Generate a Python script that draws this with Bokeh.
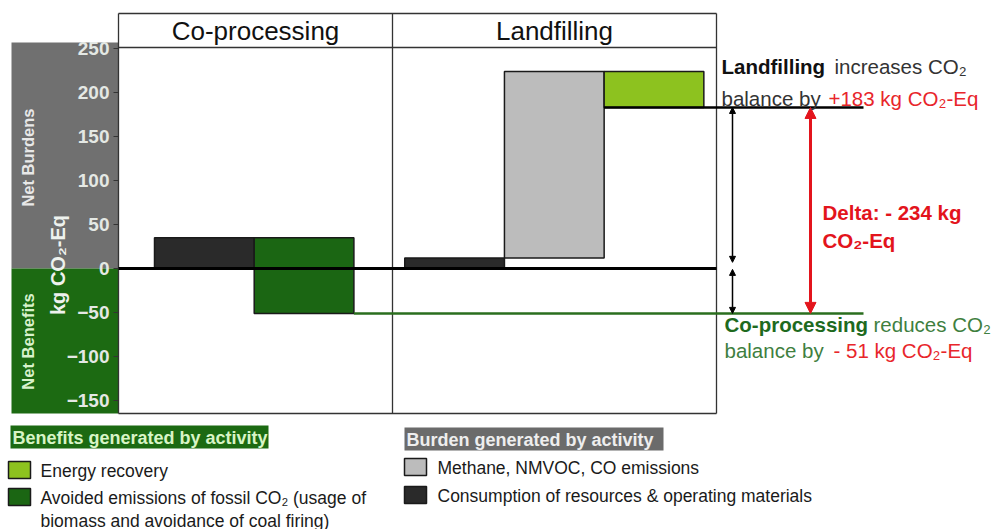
import math
from bokeh.plotting import figure
from bokeh.models import (Range1d, FixedTicker, Label, Arrow, NormalHead, ColumnDataSource)
from bokeh.embed import file_html
from bokeh.resources import INLINE
from bokeh.core.properties import value

# ---------------- data ----------------
scenarios = ["Co-processing", "Landfilling"]
co_processing_steps = ["Consumption of resources & operating materials",
                       "Avoided emissions of fossil CO₂"]
co_processing_values = [35, -86]
landfilling_steps = ["Consumption of resources & operating materials",
                     "Methane, NMVOC, CO emissions",
                     "Energy recovery"]
landfilling_values = [12, 212, -41]
y_ticks = [-150, -100, -50, 0, 50, 100, 150, 200, 250]
benefit_labels = ["Energy recovery",
                  "Avoided emissions of fossil CO₂ (usage of\nbiomass and avoidance of coal firing)"]
burden_labels = ["Methane, NMVOC, CO emissions",
                 "Consumption of resources & operating materials"]

# ---------------- styles ----------------
FONT = "Liberation Sans"
C_LIGHT_GREEN = "#8dc21f"
C_DARK_GREEN = "#1b6613"
C_GRAY = "#bcbcbc"
C_DARK = "#2a2a2a"
C_RED = "#e3141c"
step_color = {
    "Consumption of resources & operating materials": C_DARK,
    "Avoided emissions of fossil CO₂": C_DARK_GREEN,
    "Methane, NMVOC, CO emissions": C_GRAY,
    "Energy recovery": C_LIGHT_GREEN,
}
benefit_colors = [C_LIGHT_GREEN, C_DARK_GREEN]
burden_colors = [C_GRAY, C_DARK]

# layout helpers (canvas pixel -> data units)
def px(xp):
    return (xp - 154) / 99.7

def py(yp):
    return (268 - yp) / 0.88

W, H = 1003, 529

p = figure(width=W, height=H, output_backend="svg", toolbar_location=None,
           x_range=Range1d(px(0), px(W)), y_range=Range1d(py(H), py(0)),
           x_axis_location=None, min_border=0)
p.outline_line_color = None
p.grid.visible = False
p.background_fill_color = "white"
p.border_fill_color = "white"

# band behind the axis
p.quad(left=[px(11), px(11)], right=[px(118), px(118)], top=[py(42), 0],
       bottom=[0, py(413)], fill_color=["#707070", "#1c6a12"], line_color=None)
p.text(x=[px(27), px(27)], y=[py(157), py(341)], text=["Net Burdens", "Net Benefits"],
       angle=math.pi / 2, text_align="center", text_baseline="middle",
       text_font=value(FONT), text_font_style="bold", text_font_size="16.5px",
       text_color=["#e8e8e8", "#d8f2cc"])

# y axis drawn at the frame's left edge
ax = p.yaxis[0]
ax.fixed_location = px(118)
ax.ticker = FixedTicker(ticks=y_ticks)
ax.axis_line_color = None
ax.major_tick_line_color = "#333333"
ax.major_tick_in = 0
ax.major_tick_out = 5
ax.minor_tick_line_color = None
ax.major_label_text_font = FONT
ax.major_label_text_font_style = "bold"
ax.major_label_text_font_size = "19px"
ax.major_label_text_color = "#e4e8e4"
ax.major_label_standoff = 4
ax.axis_label = "kg CO₂-Eq"
ax.axis_label_text_font = FONT
ax.axis_label_text_font_style = "bold"
ax.axis_label_text_font_size = "20px"
ax.axis_label_text_color = "#eef2ee"
ax.axis_label_standoff = -5

# frame and headers
frame_l, frame_r, divider = px(118), px(716), px(392)
frame_t, frame_b, head_b = py(13), py(413), py(47)
p.segment(x0=[frame_l, frame_r, divider, frame_l, frame_l, frame_l],
          y0=[frame_b, frame_b, frame_b, frame_t, head_b, frame_b],
          x1=[frame_l, frame_r, divider, frame_r, frame_r, frame_r],
          y1=[frame_t, frame_t, frame_t, frame_t, head_b, frame_b],
          line_color="#333333", line_width=1.3)
header_x = [(frame_l + divider) / 2, (divider + frame_r) / 2]
p.text(x=header_x, y=[py(30)] * 2, text=scenarios, text_align="center",
       text_baseline="middle", text_font=value(FONT), text_font_size="26px",
       text_color="#111111")

# waterfall bars
group_offset = [0.0, 2.51]
rows = dict(left=[], right=[], bottom=[], top=[], color=[], name=[])
nets = []
for g, (steps, vals) in enumerate([(co_processing_steps, co_processing_values),
                                   (landfilling_steps, landfilling_values)]):
    cum = 0
    for i, (s, v) in enumerate(zip(steps, vals)):
        lo, hi = sorted([cum, cum + v])
        rows["left"].append(group_offset[g] + i)
        rows["right"].append(group_offset[g] + i + 1)
        rows["bottom"].append(lo)
        rows["top"].append(hi)
        rows["color"].append(step_color[s])
        rows["name"].append(s)
        cum += v
    nets.append(cum)
src = ColumnDataSource(rows)
p.quad(left="left", right="right", bottom="bottom", top="top", fill_color="color",
       line_color="#1a1a1a", line_width=1.5, source=src)

net_co, net_land = nets
# zero line
p.segment(x0=[frame_l], y0=[0], x1=[frame_r], y1=[0], line_color="black", line_width=3)
# net lines
p.segment(x0=[rows["left"][-1]], y0=[net_land], x1=[px(863)], y1=[net_land],
          line_color="black", line_width=2.5)
p.segment(x0=[rows["right"][1]], y0=[net_co], x1=[px(863)], y1=[net_co],
          line_color="#2a6e1e", line_width=2.5)

# arrows
def head(size, color):
    return NormalHead(size=size, fill_color=color, line_color=color)

p.add_layout(Arrow(start=head(6, "black"), end=head(6, "black"), x_start=px(732), y_start=net_land,
                   x_end=px(732), y_end=7, line_color="black", line_width=1.5))
p.add_layout(Arrow(start=head(6, "black"), end=head(6, "black"), x_start=px(732), y_start=-1,
                   x_end=px(732), y_end=net_co, line_color="black", line_width=1.5))
p.add_layout(Arrow(start=head(11, C_RED), end=head(11, C_RED), x_start=px(810), y_start=net_land,
                   x_end=px(810), y_end=net_co, line_color=C_RED, line_width=3))

def lab(xp, yp, text, color, bold=False, size="20.5px"):
    p.add_layout(Label(x=px(xp), y=py(yp), text=text, text_align="left",
                       text_baseline="middle", text_font=FONT, text_font_size=size,
                       text_font_style="bold" if bold else "normal", text_color=color))

delta = net_co - net_land
lab(721, 66, "Landfilling", "#111111", bold=True)
lab(834, 66, "increases CO₂", "#333333")
lab(721, 98, "balance by", "#333333")
lab(828, 98, f"+{net_land} kg CO₂-Eq", "#e8262b")
lab(822, 212, f"Delta: - {abs(delta)} kg", C_RED, bold=True)
lab(822, 240, "CO₂-Eq", C_RED, bold=True)
lab(724, 324, "Co-processing", "#1e6a1e", bold=True)
lab(873, 324, "reduces CO₂", "#3f7f3f")
lab(724, 350, "balance by", "#3f7f3f")
lab(833, 350, f"- {abs(net_co)} kg CO₂-Eq", "#e8262b")

# ---------------- legend ----------------
p.quad(left=[px(10), px(404)], right=[px(268), px(663)], top=[py(425), py(427)],
       bottom=[py(448), py(450)], fill_color=["#1c6a12", "#6b6b6b"], line_color=None)
p.text(x=[px(12), px(406)], y=[py(437), py(439)],
       text=["Benefits generated by activity", "Burden generated by activity"],
       text_baseline="middle", text_font=value(FONT), text_font_style="bold",
       text_font_size="18px", text_color=["#d8f5c6", "#eeeeee"])

sw_left = [8] * len(benefit_labels) + [404] * len(burden_labels)
sw_top = [461, 488, 458, 486]
p.quad(left=[px(v) for v in sw_left], right=[px(v + 22) for v in sw_left],
       top=[py(v) for v in sw_top], bottom=[py(v + 17) for v in sw_top],
       fill_color=benefit_colors + burden_colors, line_color="#1a1a1a", line_width=1.5)
p.text(x=[px(40)] * len(benefit_labels) + [px(437)] * len(burden_labels),
       y=[py(v - 1) for v in sw_top],
       text=benefit_labels + burden_labels, text_baseline="top",
       text_font=value(FONT), text_font_size="17.5px", text_color="#1a1a1a",
       text_line_height=1.15)

open("out.html", "w").write(file_html(p, INLINE))
